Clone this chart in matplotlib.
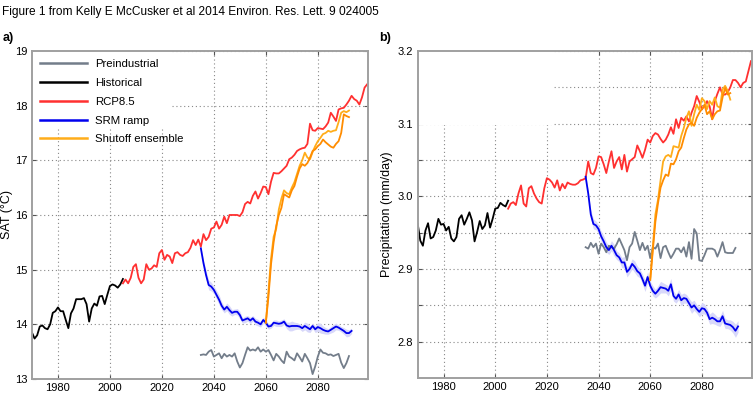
import matplotlib
matplotlib.use("Agg")
import matplotlib.pyplot as plt
import numpy as np
from matplotlib.patches import Rectangle

plt.rcParams['font.family'] = ['Liberation Sans', 'DejaVu Sans']

# ---- panel a: surface air temperature (deg C) ----
hist_sat = [13.85, 13.74, 13.80, 13.96, 13.98, 13.93, 13.91, 14.00, 14.21, 14.24,
            14.31, 14.24, 14.24, 14.08, 13.93, 14.20, 14.29, 14.46, 14.46, 14.46,
            14.48, 14.37, 14.05, 14.29, 14.38, 14.34, 14.51, 14.52, 14.37, 14.54,
            14.70, 14.73, 14.71, 14.67, 14.73, 14.83]
rcp_sat = [14.75, 14.82, 14.75, 14.85, 15.05, 15.10, 14.85, 14.75, 14.82, 15.10,
           15.00, 15.02, 15.08, 15.05, 15.30, 15.36, 15.18, 15.27, 15.24, 15.12,
           15.30, 15.32, 15.27, 15.25, 15.30, 15.32, 15.40, 15.54, 15.45, 15.55,
           15.42, 15.65, 15.54, 15.60, 15.75, 15.77, 15.88, 15.75, 15.82, 15.97,
           15.85, 16.00, 16.00, 16.00, 16.00, 15.98, 16.05, 16.20, 16.24, 16.21,
           16.35, 16.43, 16.30, 16.40, 16.52, 16.51, 16.38, 16.61, 16.77, 16.76,
           16.76, 16.80, 16.85, 16.90, 17.02, 17.05, 17.10, 17.17, 17.20, 17.22,
           17.23, 17.30, 17.67, 17.55, 17.54, 17.59, 17.58, 17.57, 17.62, 17.69,
           17.87, 17.80, 17.72, 17.93, 17.95, 17.96, 18.02, 18.09, 18.18, 18.12,
           18.09, 18.02, 18.15, 18.33, 18.39]
srm_sat = [15.39, 15.12, 14.90, 14.72, 14.69, 14.63, 14.54, 14.45, 14.34, 14.27,
           14.32, 14.26, 14.21, 14.23, 14.23, 14.17, 14.07, 14.09, 14.11, 14.07,
           14.11, 14.05, 14.03, 14.00, 14.08, 14.03, 13.96, 13.97, 14.03, 14.02,
           14.01, 14.02, 14.05, 13.98, 13.96, 13.97, 13.97, 13.97, 13.96, 13.93,
           13.97, 13.94, 13.91, 13.97, 13.91, 13.95, 13.93, 13.90, 13.88, 13.87,
           13.90, 13.93, 13.96, 13.94, 13.91, 13.88, 13.84, 13.84, 13.88]
srm_sat_spread = [0.03, 0.05, 0.08, 0.09, 0.08, 0.07, 0.08, 0.09, 0.07, 0.06,
                  0.07, 0.08, 0.06, 0.05, 0.06, 0.07, 0.05, 0.06, 0.05, 0.06,
                  0.05, 0.06, 0.06, 0.05, 0.05, 0.06, 0.05, 0.04, 0.05, 0.06,
                  0.05, 0.06, 0.05, 0.06, 0.08, 0.09, 0.07, 0.06, 0.05, 0.06,
                  0.07, 0.08, 0.06, 0.05, 0.06, 0.08, 0.09, 0.07, 0.06, 0.05,
                  0.06, 0.07, 0.06, 0.05, 0.05, 0.06, 0.07, 0.06, 0.05]
pi_sat = [13.44, 13.45, 13.44, 13.50, 13.53, 13.41, 13.44, 13.47, 13.38, 13.46,
          13.41, 13.44, 13.41, 13.47, 13.32, 13.21, 13.29, 13.44, 13.58, 13.52,
          13.54, 13.52, 13.58, 13.50, 13.54, 13.50, 13.53, 13.44, 13.34, 13.46,
          13.41, 13.34, 13.29, 13.50, 13.41, 13.38, 13.34, 13.47, 13.40, 13.32,
          13.46, 13.38, 13.29, 13.09, 13.23, 13.41, 13.54, 13.48, 13.47, 13.44,
          13.45, 13.42, 13.44, 13.46, 13.30, 13.20, 13.29, 13.42]
shut_sat_1 = [14.03, 14.60, 15.20, 15.60, 15.75, 16.10, 16.30, 16.45, 16.40, 16.38,
              16.50, 16.60, 16.75, 16.90, 17.00, 17.14, 17.05, 17.02, 17.15, 17.26,
              17.35, 17.41, 17.48, 17.50, 17.54, 17.52, 17.54, 17.55, 17.70, 17.87,
              17.90, 17.88, 17.91]
shut_sat_2 = [14.03, 14.50, 15.10, 15.50, 15.80, 16.00, 16.13, 16.38, 16.35, 16.32,
              16.45, 16.53, 16.70, 16.85, 16.93, 16.90, 16.95, 17.05, 17.17, 17.20,
              17.26, 17.30, 17.38, 17.33, 17.29, 17.25, 17.23, 17.30, 17.35, 17.50,
              17.84, 17.81, 17.79]

# ---- panel b: precipitation (mm/day) ----
hist_pr = [2.962, 2.939, 2.932, 2.953, 2.963, 2.942, 2.944, 2.953, 2.969, 2.961,
           2.962, 2.953, 2.958, 2.942, 2.938, 2.944, 2.969, 2.974, 2.961, 2.969,
           2.978, 2.967, 2.938, 2.951, 2.966, 2.955, 2.960, 2.977, 2.957, 2.969,
           2.983, 2.984, 2.991, 2.988, 2.986, 2.994]
rcp_pr = [2.983, 2.990, 2.992, 2.988, 3.004, 3.015, 2.990, 2.986, 3.011, 3.014,
          3.004, 2.997, 2.992, 2.990, 3.011, 3.025, 3.023, 3.019, 3.012, 3.022,
          3.008, 3.017, 3.011, 3.019, 3.017, 3.016, 3.016, 3.018, 3.022, 3.023,
          3.025, 3.048, 3.032, 3.030, 3.039, 3.055, 3.054, 3.044, 3.032, 3.048,
          3.062, 3.039, 3.048, 3.054, 3.037, 3.057, 3.034, 3.048, 3.051, 3.054,
          3.070, 3.062, 3.053, 3.064, 3.078, 3.074, 3.083, 3.087, 3.085, 3.079,
          3.074, 3.078, 3.085, 3.095, 3.086, 3.106, 3.094, 3.108, 3.104, 3.110,
          3.103, 3.115, 3.124, 3.138, 3.130, 3.120, 3.124, 3.131, 3.124, 3.106,
          3.131, 3.141, 3.150, 3.140, 3.140, 3.143, 3.150, 3.160, 3.160, 3.156,
          3.150, 3.156, 3.158, 3.172, 3.186]
srm_pr = [3.027, 3.004, 2.975, 2.962, 2.960, 2.955, 2.945, 2.938, 2.930, 2.926,
          2.932, 2.926, 2.919, 2.916, 2.909, 2.909, 2.896, 2.900, 2.907, 2.903,
          2.897, 2.894, 2.886, 2.877, 2.889, 2.877, 2.870, 2.866, 2.870, 2.875,
          2.874, 2.873, 2.870, 2.879, 2.863, 2.859, 2.865, 2.857, 2.860, 2.859,
          2.853, 2.847, 2.850, 2.845, 2.841, 2.846, 2.845, 2.840, 2.831, 2.833,
          2.831, 2.828, 2.828, 2.835, 2.825, 2.824, 2.823, 2.820, 2.815, 2.821]
srm_pr_spread = [0.003, 0.004, 0.006, 0.007, 0.006, 0.006, 0.007, 0.008, 0.007, 0.006,
                 0.007, 0.008, 0.006, 0.006, 0.007, 0.008, 0.007, 0.006, 0.007, 0.008,
                 0.007, 0.006, 0.007, 0.008, 0.007, 0.006, 0.007, 0.006, 0.007, 0.008,
                 0.007, 0.006, 0.007, 0.008, 0.007, 0.006, 0.007, 0.008, 0.007, 0.006,
                 0.007, 0.008, 0.007, 0.006, 0.007, 0.008, 0.007, 0.006, 0.007, 0.008,
                 0.007, 0.006, 0.007, 0.008, 0.007, 0.006, 0.007, 0.008, 0.009, 0.008]
pi_pr = [2.930, 2.928, 2.936, 2.930, 2.935, 2.921, 2.935, 2.930, 2.923, 2.932,
         2.930, 2.928, 2.934, 2.942, 2.934, 2.926, 2.912, 2.930, 2.935, 2.951,
         2.939, 2.926, 2.936, 2.926, 2.932, 2.915, 2.930, 2.928, 2.935, 2.915,
         2.930, 2.932, 2.923, 2.915, 2.921, 2.928, 2.928, 2.923, 2.930, 2.917,
         2.937, 2.914, 2.955, 2.949, 2.912, 2.911, 2.919, 2.928, 2.928, 2.928,
         2.926, 2.917, 2.926, 2.937, 2.923, 2.922, 2.922, 2.922, 2.929]
shut_pr_1 = [2.885, 2.930, 2.975, 2.995, 3.022, 3.048, 3.055, 3.057, 3.054, 3.069,
             3.068, 3.067, 3.083, 3.094, 3.108, 3.117, 3.097, 3.113, 3.126, 3.119,
             3.135, 3.131, 3.120, 3.131, 3.126, 3.136, 3.124, 3.122, 3.147, 3.152,
             3.145, 3.133]
shut_pr_2 = [2.885, 2.925, 2.965, 2.990, 3.012, 3.022, 3.030, 3.028, 3.045, 3.044,
             3.051, 3.062, 3.067, 3.080, 3.092, 3.099, 3.101, 3.097, 3.108, 3.115,
             3.120, 3.126, 3.113, 3.117, 3.106, 3.113, 3.117, 3.118, 3.136, 3.149,
             3.140, 3.142]

xticks = [1980, 2000, 2020, 2040, 2060, 2080]

c_pi = '#737d8a'
c_hist = 'black'
c_rcp = '#ff3030'
c_srm = '#0000ee'
c_band = '#d8d8fa'
c_shut1 = '#ffad1a'
c_shut2 = '#ff8c00'


def yrs(start, vals):
    return np.arange(start, start + len(vals))


def style(ax, box):
    ax.set_xlim(1970, 2099.3)
    ax.set_xticks(xticks)
    ax.set_axisbelow(True)
    ax.grid(True, which='both', ls=(0, (1, 2.5)), color='#888888', lw=0.8)
    ax.tick_params(which='both', direction='in', top=True, right=True,
                   length=3, width=0.8, color='#555555', labelsize=8)
    ax.tick_params(axis='x', pad=3)
    for s in ax.spines.values():
        s.set_color('#a0a0a0')
        s.set_linewidth(1.4)
    # white box from the (empty) legend area
    ax.add_patch(Rectangle((0, box[1]), box[0], 1 - box[1], transform=ax.transAxes,
                           facecolor='white', edgecolor='none', zorder=0.8))


fig = plt.figure(figsize=(7.54, 3.95), dpi=100)
ax1 = fig.add_axes([0.0424, 0.0405, 0.4456, 0.8305])
ax2 = fig.add_axes([0.554, 0.043, 0.443, 0.828])

# panel a
ax1.fill_between(yrs(2035, srm_sat), np.array(srm_sat) - srm_sat_spread,
                 np.array(srm_sat) + srm_sat_spread, color=c_band, lw=0, zorder=1)
ax1.plot(yrs(2035, pi_sat), pi_sat, color=c_pi, lw=1.3, label='Preindustrial')
ax1.plot(yrs(1970, hist_sat), hist_sat, color=c_hist, lw=1.3, label='Historical')
ax1.plot(yrs(2005, rcp_sat), rcp_sat, color=c_rcp, lw=1.3, label='RCP8.5')
ax1.plot(yrs(2035, srm_sat), srm_sat, color=c_srm, lw=1.3, label='SRM ramp')
ax1.plot(yrs(2060, shut_sat_1), shut_sat_1, color=c_shut1, lw=1.3, label='Shutoff ensemble')
ax1.plot(yrs(2060, shut_sat_2), shut_sat_2, color=c_shut2, lw=1.3)
style(ax1, (0.41, 0.765))
ax1.set_ylim(13, 19)
ax1.set_yticks(range(13, 20))
ax1.set_ylabel('SAT (°C)', fontsize=9)
ax1.yaxis.set_label_coords(-0.057, 0.5)
leg = ax1.legend(loc='upper left', frameon=False, fontsize=8.2, handlelength=4.1,
                 handletextpad=0.75, labelspacing=0.78, borderaxespad=0.3,
                 bbox_to_anchor=(0.0, 1.0))
for h in leg.legend_handles:
    h.set_linewidth(1.8)

# panel b
ax2.fill_between(yrs(2035, srm_pr), np.array(srm_pr) - srm_pr_spread,
                 np.array(srm_pr) + srm_pr_spread, color=c_band, lw=0, zorder=1)
ax2.plot(yrs(2035, pi_pr), pi_pr, color=c_pi, lw=1.3)
ax2.plot(yrs(1970, hist_pr), hist_pr, color=c_hist, lw=1.3)
ax2.plot(yrs(2005, rcp_pr), rcp_pr, color=c_rcp, lw=1.3)
ax2.plot(yrs(2035, srm_pr), srm_pr, color=c_srm, lw=1.3)
ax2.plot(yrs(2060, shut_pr_1), shut_pr_1, color=c_shut1, lw=1.3)
ax2.plot(yrs(2060, shut_pr_2), shut_pr_2, color=c_shut2, lw=1.3)
style(ax2, (0.404, 0.774))
ax2.set_ylim(2.75, 3.2)
ax2.set_yticks([2.8, 2.9, 3.0, 3.1, 3.2])
ax2.set_yticks([2.85, 2.95, 3.05, 3.15], minor=True)
ax2.set_ylabel('Precipitation (mm/day)', fontsize=9, labelpad=3)

title = fig.text(0.003, 0.97,
                 'Figure 1 from Kelly E McCusker et al 2014 Environ. Res. Lett. 9 024005',
                 fontsize=9.2, va='center')
# shrink the header so it spans about 378 px like the original
fig.canvas.draw()
w = title.get_window_extent().width
title.set_fontsize(9.2 * 378 / w)
fig.text(0.003, 0.905, 'a)', fontsize=9, fontweight='bold', va='center')
fig.text(0.503, 0.905, 'b)', fontsize=9, fontweight='bold', va='center')

fig.savefig('out.png', dpi=100)
